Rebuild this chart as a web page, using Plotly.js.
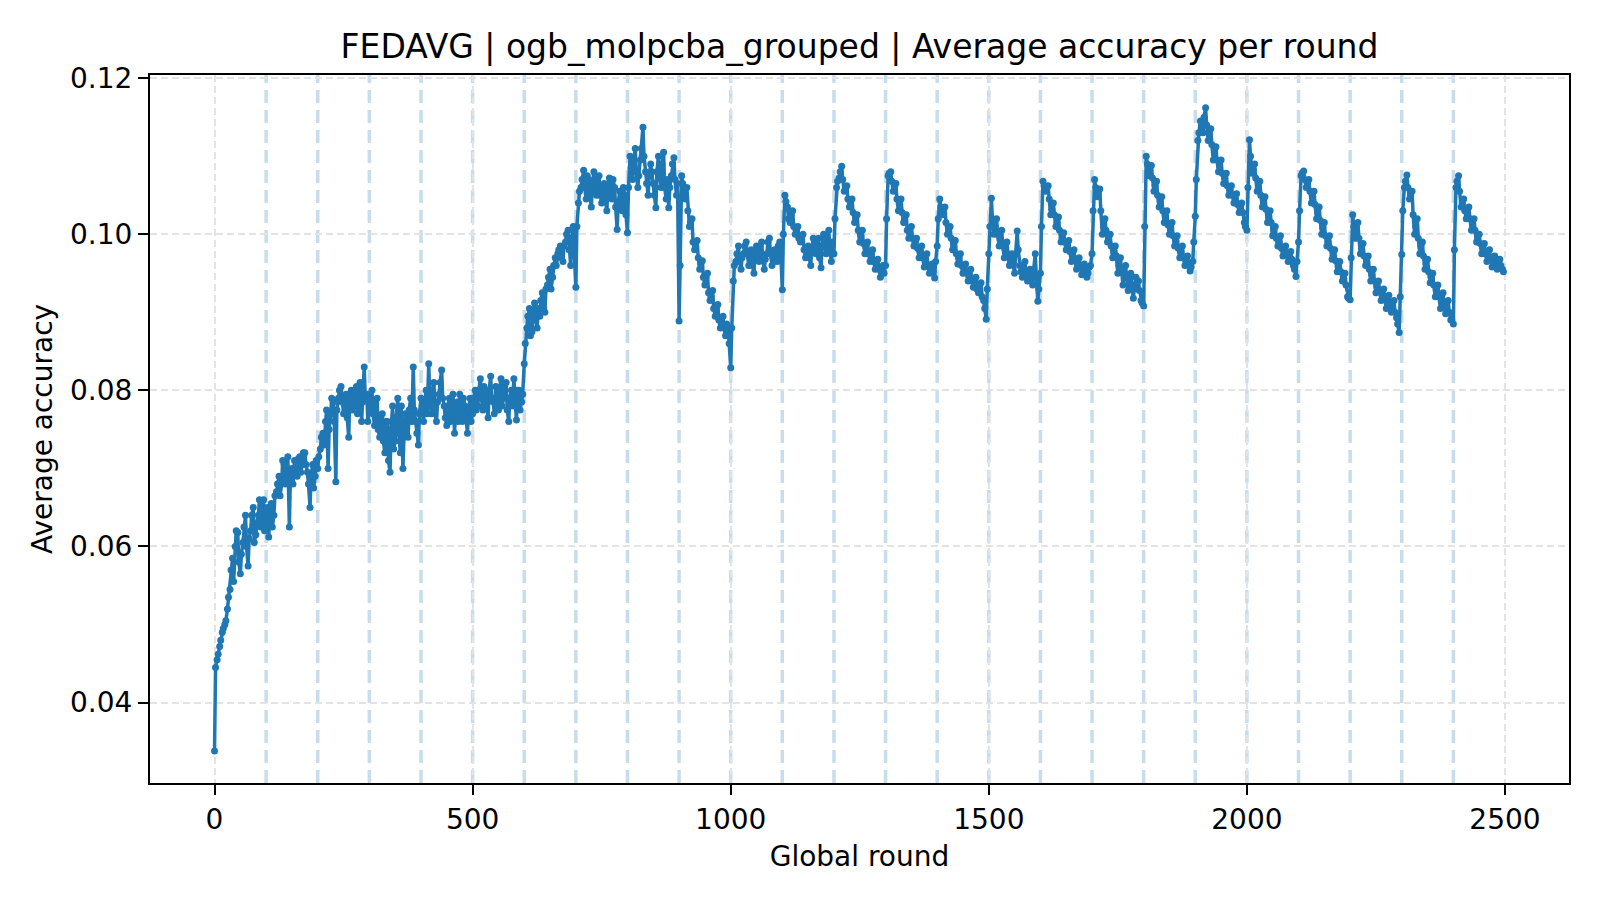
<!DOCTYPE html>
<html>
<head>
<meta charset="utf-8">
<script src="https://cdn.plot.ly/plotly-3.0.1.min.js"></script>
<style>
  html, body { margin: 0; padding: 0; background: #ffffff; }
  #chart { width: 1600px; height: 900px; }
</style>
</head>
<body>
<div id="chart"></div>
<script>
// Average accuracy.
// acc_XXXX: rounds XXXX, XXXX+5, ..., XXXX+95
const acc_0000 = [0.0338,0.0455,0.0472,0.0490,0.0500,0.0520,0.0545,0.0585,0.0600,0.0618,0.0565,0.0605,0.0640,0.0575,0.0620,0.0650,0.0615,0.0640,0.0625,0.0660];
const acc_0100 = [0.0635,0.0612,0.0655,0.0640,0.0670,0.0690,0.0680,0.0705,0.0695,0.0625,0.0700,0.0710,0.0690,0.0715,0.0705,0.0720,0.0695,0.0650,0.0705,0.0690];
const acc_0200 = [0.0700,0.0725,0.0745,0.0760,0.0700,0.0770,0.0785,0.0683,0.0790,0.0805,0.0770,0.0795,0.0740,0.0800,0.0780,0.0805,0.0790,0.0760,0.0830,0.0795];
const acc_0300 = [0.0775,0.0800,0.0755,0.0790,0.0740,0.0770,0.0720,0.0760,0.0695,0.0780,0.0735,0.0790,0.0720,0.0700,0.0770,0.0740,0.0790,0.0830,0.0760,0.0730];
const acc_0400 = [0.0790,0.0760,0.0800,0.0834,0.0770,0.0810,0.0760,0.0795,0.0826,0.0780,0.0755,0.0790,0.0770,0.0745,0.0785,0.0795,0.0760,0.0780,0.0745,0.0790];
const acc_0500 = [0.0770,0.0800,0.0780,0.0815,0.0775,0.0800,0.0765,0.0818,0.0785,0.0805,0.0775,0.0815,0.0790,0.0810,0.0760,0.0800,0.0815,0.0762,0.0800,0.0785];
const acc_0600 = [0.0834,0.0880,0.0905,0.0875,0.0912,0.0880,0.0895,0.0925,0.0900,0.0935,0.0955,0.0945,0.0970,0.0975,0.0985,0.0965,0.0990,0.1005,0.0960,0.1010];
const acc_0700 = [0.0932,0.1040,0.1060,0.1082,0.1045,0.1070,0.1035,0.1080,0.1050,0.1075,0.1040,0.1065,0.1030,0.1072,0.1045,0.1060,0.1006,0.1055,0.1030,0.1050];
const acc_0800 = [0.1002,0.1100,0.1070,0.1110,0.1060,0.1095,0.1137,0.1080,0.1050,0.1090,0.1065,0.1034,0.1100,0.1060,0.1105,0.1045,0.1034,0.1075,0.1098,0.1050];
const acc_0900 = [0.0889,0.1075,0.1050,0.1060,0.1010,0.1020,0.0980,0.0992,0.0955,0.0966,0.0935,0.0950,0.0915,0.0928,0.0895,0.0910,0.0880,0.0895,0.0870,0.0880];
const acc_1000 = [0.0829,0.0940,0.0965,0.0985,0.0955,0.0975,0.0990,0.0960,0.0980,0.0950,0.0985,0.0965,0.0990,0.0955,0.0975,0.0995,0.0960,0.0980,0.0965,0.0990];
const acc_1100 = [0.0929,0.1050,0.1035,0.1015,0.1030,0.1000,0.1010,0.0990,0.1000,0.0970,0.0985,0.0960,0.0995,0.0975,0.0995,0.0957,0.1000,0.0975,0.1005,0.0965];
const acc_1200 = [0.0975,0.1060,0.1072,0.1087,0.1055,0.1062,0.1035,0.1045,0.1015,0.1025,0.0990,0.1005,0.0975,0.0990,0.0965,0.0980,0.0955,0.0968,0.0945,0.0960];
const acc_1300 = [0.0960,0.1075,0.1080,0.1055,0.1065,0.1030,0.1045,0.1015,0.1025,0.0995,0.1010,0.0985,0.0995,0.0970,0.0985,0.0958,0.0975,0.0950,0.0962,0.0944];
const acc_1400 = [0.0985,0.1045,0.1025,0.1035,0.1000,0.1010,0.0980,0.0992,0.0962,0.0975,0.0950,0.0962,0.0940,0.0955,0.0932,0.0945,0.0925,0.0938,0.0915,0.0891];
const acc_1500 = [0.0975,0.1046,0.1000,0.1020,0.0985,0.1005,0.0970,0.0990,0.0960,0.0975,0.0950,0.1004,0.0960,0.0945,0.0965,0.0940,0.0955,0.0935,0.0975,0.0914];
const acc_1600 = [0.0950,0.1068,0.1055,0.1062,0.1025,0.1040,0.1010,0.1022,0.0990,0.1002,0.0980,0.0992,0.0965,0.0980,0.0955,0.0970,0.0948,0.0962,0.0945,0.0958];
const acc_1700 = [0.0975,0.1070,0.1048,0.1058,0.1000,0.1020,0.0990,0.1000,0.0970,0.0985,0.0950,0.0970,0.0935,0.0960,0.0928,0.0950,0.0918,0.0945,0.0940,0.0915];
const acc_1800 = [0.0908,0.1100,0.1075,0.1088,0.1055,0.1068,0.1035,0.1048,0.1015,0.1030,0.1000,0.1015,0.0985,0.0998,0.0970,0.0985,0.0960,0.0972,0.0953,0.0965];
const acc_1900 = [0.1023,0.1120,0.1145,0.1130,0.1162,0.1120,0.1135,0.1095,0.1112,0.1080,0.1095,0.1065,0.1078,0.1050,0.1062,0.1040,0.1052,0.1028,0.1040,0.1015];
const acc_2000 = [0.1005,0.1121,0.1078,0.1090,0.1055,0.1068,0.1035,0.1048,0.1015,0.1030,0.0998,0.1010,0.0985,0.0998,0.0972,0.0985,0.0965,0.0978,0.0960,0.0946];
const acc_2100 = [0.0990,0.1075,0.1081,0.1060,0.1070,0.1040,0.1055,0.1020,0.1035,0.1000,0.1015,0.0985,0.0998,0.0968,0.0980,0.0952,0.0965,0.0940,0.0950,0.0920];
const acc_2200 = [0.0916,0.1025,0.0995,0.1015,0.0975,0.0988,0.0960,0.0972,0.0940,0.0955,0.0925,0.0940,0.0915,0.0930,0.0905,0.0922,0.0900,0.0915,0.0893,0.0874];
const acc_2300 = [0.0974,0.1060,0.1076,0.1045,0.1055,0.1000,0.1020,0.0975,0.0990,0.0955,0.0968,0.0938,0.0950,0.0920,0.0935,0.0905,0.0925,0.0898,0.0915,0.0890];
const acc_2400 = [0.0885,0.1060,0.1075,0.1035,0.1045,0.1020,0.1035,0.1005,0.1020,0.0990,0.1000,0.0975,0.0988,0.0965,0.0980,0.0958,0.0972,0.0955,0.0968,0.0955];

// mid_XXXX: rounds XXXX+2, XXXX+7, ..., XXXX+97
const mid_0000 = [0.0445,0.0462,0.0480,0.0495,0.0505,0.0535,0.0570,0.0555,0.0620,0.0580,0.0590,0.0625,0.0600,0.0610,0.0640,0.0605,0.0630,0.0660,0.0645,0.0620];
const mid_0100 = [0.0650,0.0640,0.0625,0.0665,0.0680,0.0665,0.0710,0.0680,0.0715,0.0690,0.0680,0.0700,0.0712,0.0695,0.0720,0.0705,0.0680,0.0690,0.0675,0.0710];
const mid_0200 = [0.0715,0.0740,0.0730,0.0775,0.0750,0.0790,0.0760,0.0775,0.0800,0.0785,0.0790,0.0765,0.0790,0.0775,0.0800,0.0770,0.0810,0.0785,0.0790,0.0760];
const mid_0300 = [0.0790,0.0770,0.0785,0.0750,0.0765,0.0735,0.0760,0.0710,0.0750,0.0725,0.0765,0.0745,0.0780,0.0740,0.0755,0.0775,0.0760,0.0775,0.0745,0.0770];
const mid_0400 = [0.0775,0.0785,0.0770,0.0790,0.0800,0.0770,0.0785,0.0810,0.0790,0.0765,0.0780,0.0760,0.0795,0.0775,0.0760,0.0775,0.0790,0.0765,0.0775,0.0760];
const mid_0500 = [0.0790,0.0775,0.0800,0.0790,0.0805,0.0780,0.0800,0.0790,0.0770,0.0790,0.0800,0.0780,0.0805,0.0775,0.0790,0.0780,0.0790,0.0800,0.0775,0.0795];
const mid_0600 = [0.0860,0.0895,0.0870,0.0900,0.0890,0.0905,0.0915,0.0905,0.0930,0.0945,0.0930,0.0960,0.0960,0.0980,0.0970,0.0985,0.1000,0.0980,0.0995,0.0975];
const mid_0700 = [0.1010,0.1055,0.1070,0.1060,0.1075,0.1050,0.1065,0.1055,0.1070,0.1050,0.1060,0.1045,0.1060,0.1050,0.1070,0.1035,0.1040,0.1035,0.1060,0.1025];
const mid_0800 = [0.1060,0.1085,0.1095,0.1080,0.1075,0.1110,0.1100,0.1065,0.1075,0.1080,0.1050,0.1080,0.1075,0.1090,0.1060,0.1070,0.1060,0.1090,0.1070,0.1065];
const mid_0900 = [0.0960,0.1065,0.1045,0.1030,0.1015,0.0990,0.0985,0.0970,0.0962,0.0945,0.0945,0.0925,0.0920,0.0905,0.0905,0.0890,0.0888,0.0880,0.0885,0.0860];
const mid_1000 = [0.0880,0.0960,0.0975,0.0965,0.0970,0.0985,0.0975,0.0975,0.0960,0.0975,0.0970,0.0985,0.0970,0.0968,0.0990,0.0975,0.0972,0.0970,0.0985,0.0975];
const mid_1100 = [0.1000,0.1042,0.1020,0.1025,0.1010,0.1005,0.0995,0.0998,0.0980,0.0978,0.0970,0.0982,0.0985,0.0988,0.0970,0.0985,0.0985,0.0995,0.0980,0.0990];
const mid_1200 = [0.1020,0.1068,0.1080,0.1070,0.1058,0.1045,0.1040,0.1028,0.1022,0.1005,0.0998,0.0988,0.0985,0.0975,0.0975,0.0965,0.0962,0.0955,0.0952,0.0950];
const mid_1300 = [0.1020,0.1078,0.1068,0.1060,0.1045,0.1040,0.1028,0.1020,0.1005,0.1002,0.0995,0.0990,0.0982,0.0978,0.0970,0.0965,0.0960,0.0955,0.0952,0.0965];
const mid_1400 = [0.1020,0.1035,0.1030,0.1015,0.1005,0.0995,0.0985,0.0975,0.0970,0.0960,0.0955,0.0950,0.0945,0.0940,0.0938,0.0930,0.0930,0.0920,0.0905,0.0930];
const mid_1500 = [0.1010,0.1020,0.1010,0.1000,0.0995,0.0985,0.0980,0.0975,0.0965,0.0962,0.0975,0.0980,0.0952,0.0955,0.0950,0.0948,0.0945,0.0955,0.0945,0.0930];
const mid_1600 = [0.1010,0.1062,0.1058,0.1045,0.1032,0.1025,0.1015,0.1005,0.0995,0.0990,0.0985,0.0978,0.0972,0.0968,0.0962,0.0960,0.0955,0.0952,0.0950,0.0960];
const mid_1700 = [0.1030,0.1060,0.1052,0.1030,0.1010,0.1005,0.0995,0.0985,0.0978,0.0972,0.0960,0.0955,0.0948,0.0945,0.0940,0.0935,0.0932,0.0930,0.0928,0.0912];
const mid_1800 = [0.1010,0.1090,0.1082,0.1072,0.1062,0.1050,0.1042,0.1030,0.1022,0.1012,0.1008,0.0998,0.0992,0.0982,0.0978,0.0970,0.0966,0.0960,0.0958,0.0990];
const mid_1900 = [0.1070,0.1130,0.1138,0.1150,0.1140,0.1128,0.1115,0.1105,0.1095,0.1088,0.1078,0.1072,0.1062,0.1056,0.1050,0.1045,0.1038,0.1035,0.1028,0.1010];
const mid_2000 = [0.1060,0.1100,0.1082,0.1072,0.1060,0.1050,0.1040,0.1032,0.1022,0.1015,0.1005,0.0995,0.0990,0.0982,0.0978,0.0975,0.0970,0.0968,0.0955,0.0965];
const mid_2100 = [0.1030,0.1078,0.1070,0.1065,0.1055,0.1048,0.1038,0.1028,0.1018,0.1008,0.0998,0.0990,0.0982,0.0972,0.0966,0.0958,0.0952,0.0945,0.0935,0.0918];
const mid_2200 = [0.0970,0.1010,0.1008,0.0995,0.0982,0.0972,0.0965,0.0955,0.0948,0.0940,0.0932,0.0928,0.0922,0.0918,0.0912,0.0910,0.0908,0.0900,0.0885,0.0920];
const mid_2300 = [0.1030,0.1068,0.1060,0.1050,0.1025,0.1010,0.0995,0.0985,0.0972,0.0962,0.0952,0.0945,0.0935,0.0928,0.0920,0.0915,0.0910,0.0905,0.0900,0.0890];
const mid_2400 = [0.0980,0.1068,0.1055,0.1040,0.1030,0.1028,0.1020,0.1012,0.1005,0.0995,0.0988,0.0982,0.0975,0.0972,0.0968,0.0965,0.0962,0.0962,0.0960,0.0952];

const ROUND_STEP = 5;
const MID_OFFSET = 2;
const groupBoundaries = [100,200,300,400,500,600,700,800,900,1000,1100,1200,1300,1400,1500,1600,1700,1800,1900,2000,2100,2200,2300,2400];
const xTicks = [0, 500, 1000, 1500, 2000, 2500];
const yTicks = [0.04, 0.06, 0.08, 0.10, 0.12];

const mainVals = [].concat(acc_0000, acc_0100, acc_0200, acc_0300, acc_0400, acc_0500, acc_0600,
  acc_0700, acc_0800, acc_0900, acc_1000, acc_1100, acc_1200, acc_1300, acc_1400, acc_1500,
  acc_1600, acc_1700, acc_1800, acc_1900, acc_2000, acc_2100, acc_2200, acc_2300, acc_2400);
const midVals = [].concat(mid_0000, mid_0100, mid_0200, mid_0300, mid_0400, mid_0500, mid_0600,
  mid_0700, mid_0800, mid_0900, mid_1000, mid_1100, mid_1200, mid_1300, mid_1400, mid_1500,
  mid_1600, mid_1700, mid_1800, mid_1900, mid_2000, mid_2100, mid_2200, mid_2300, mid_2400);

const rounds = [];
const accuracy = [];
mainVals.forEach((v, i) => {
  rounds.push(i * ROUND_STEP); accuracy.push(v);
  rounds.push(i * ROUND_STEP + MID_OFFSET); accuracy.push(midVals[i]);
});

const FONT = 'DejaVu Sans, Liberation Sans, sans-serif';
const BLUE = '#1f77b4';

const trace = {
  x: rounds,
  y: accuracy,
  type: 'scatter',
  mode: 'lines+markers',
  line: { color: BLUE, width: 3.5 },
  marker: { color: BLUE, size: 7 },
  hoverinfo: 'x+y',
  showlegend: false
};

const shapes = groupBoundaries.map(b => ({
  type: 'line', xref: 'x', yref: 'paper', x0: b, x1: b, y0: 0, y1: 1,
  line: { color: 'rgba(31,119,180,0.25)', width: 3.5, dash: '13px,7px' },
  layer: 'below'
}));

const layout = {
  width: 1600,
  height: 900,
  paper_bgcolor: '#ffffff',
  plot_bgcolor: '#ffffff',
  margin: { l: 150, r: 31, t: 75, b: 117 },
  font: { family: FONT, color: '#000000', size: 28 },
  title: {
    text: 'FEDAVG | ogb_molpcba_grouped | Average accuracy per round',
    font: { family: FONT, size: 33, color: '#000000' },
    xref: 'paper', x: 0.5, xanchor: 'center',
    yref: 'container', y: 1 - 46 / 900, yanchor: 'middle'
  },
  xaxis: {
    range: [-125, 2624],
    tickvals: xTicks,
    ticktext: xTicks.map(String),
    ticks: 'outside', ticklen: 10, tickwidth: 2, tickcolor: '#000',
    showline: true, linecolor: '#000', linewidth: 2, mirror: true,
    showgrid: true, gridcolor: '#e3e3e3', gridwidth: 2, griddash: '7px,4px',
    zeroline: false,
    tickfont: { family: FONT, size: 28, color: '#000' },
    title: { text: 'Global round', font: { family: FONT, size: 28, color: '#000' }, standoff: 12 },
    automargin: false
  },
  yaxis: {
    range: [0.0297, 0.1204],
    tickvals: yTicks,
    ticktext: yTicks.map(v => v.toFixed(2)),
    ticks: 'outside', ticklen: 10, tickwidth: 2, tickcolor: '#000',
    showline: true, linecolor: '#000', linewidth: 2, mirror: true,
    showgrid: true, gridcolor: '#e3e3e3', gridwidth: 2, griddash: '7px,4px',
    zeroline: false,
    tickfont: { family: FONT, size: 28, color: '#000' },
    title: { text: 'Average accuracy', font: { family: FONT, size: 28, color: '#000' }, standoff: 9 },
    automargin: false
  },
  shapes: shapes
};

Plotly.newPlot('chart', [trace], layout, { displayModeBar: false, staticPlot: true });
</script>
</body>
</html>
